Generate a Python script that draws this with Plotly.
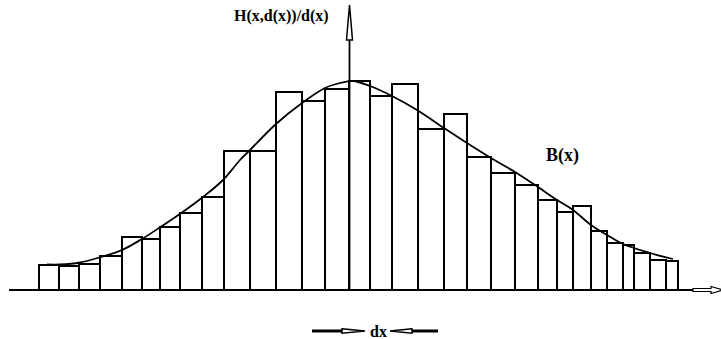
import plotly.graph_objects as go

# ---- data (x in horizontal units, heights above the baseline) ----
bin_edges = [39, 59, 79, 100, 122, 142, 160, 180, 202, 224, 250, 276, 302, 325,
             349, 370, 392, 418, 444, 467, 491, 515, 538, 557, 573, 591, 607,
             623, 634, 650, 666, 678]
bin_heights = [25, 24.5, 26, 34.5, 53, 51, 63, 77, 93, 139.5, 139.5, 198.5, 189.5,
               201, 209, 194, 206, 161, 176.5, 133.5, 117.5, 105, 90, 78.5, 84,
               59.5, 47.5, 45, 37, 30, 29.5]

curve_x = [47, 60, 80, 101, 122, 142, 162, 182, 203, 223, 240, 250, 276, 302,
           325, 340, 353, 370, 392, 417, 444, 467, 491, 515, 538, 557, 573,
           591, 607, 623, 650, 673]
curve_y = [25.5, 25.5, 27.5, 33, 40, 51, 64, 77.5, 93, 110, 130, 140, 166, 187,
           202, 207, 209, 204, 194, 180, 162, 147, 132, 118, 103, 90, 80,
           65, 55, 46, 37, 31]

y_label = "H(x,d(x))/d(x)"
curve_label = "B(x)"
dx_label = "dx"

centers = [(a + b) / 2 for a, b in zip(bin_edges[:-1], bin_edges[1:])]
widths = [b - a for a, b in zip(bin_edges[:-1], bin_edges[1:])]

fig = go.Figure()
fig.add_trace(go.Bar(
    x=centers, y=bin_heights, width=widths,
    marker=dict(color="white", line=dict(color="black", width=2)),
    showlegend=False, hoverinfo="skip",
))
fig.add_trace(go.Scatter(
    x=curve_x, y=curve_y, mode="lines",
    line=dict(color="black", width=1.8, shape="spline", smoothing=1.0),
    showlegend=False, hoverinfo="skip",
))

BASE_PX = 290  # baseline pixel row
H = 339
def py(p):  # pixel row -> data y
    return BASE_PX - p

shapes = []
# horizontal axis line
shapes.append(dict(type="line", x0=9, x1=694, y0=0, y1=0,
                   line=dict(color="black", width=1.8)))
# right axis arrow head (outlined)
shapes.append(dict(type="path",
                   path="M693,1.5 L711,1.5 L711,3.5 L723,0 L711,-3.5 L711,-1.5 L693,-1.5 Z",
                   fillcolor="white", line=dict(color="black", width=1.2)))
# vertical arrow shaft
shapes.append(dict(type="line", x0=349.5, x1=349.5, y0=0, y1=py(40),
                   line=dict(color="black", width=1.8)))
# vertical arrow head (outlined, narrow)
shapes.append(dict(type="path",
                   path=f"M346.5,{py(40)} L349.5,{py(5)} L352.5,{py(40)} Z",
                   fillcolor="white", line=dict(color="black", width=1.5)))
# dx arrows
yb = py(331)
shapes.append(dict(type="line", x0=312, x1=345, y0=yb, y1=yb,
                   line=dict(color="black", width=3)))
shapes.append(dict(type="path",
                   path=f"M342,{yb+2.2} L365,{yb} L342,{yb-2.2} Z",
                   fillcolor="white", line=dict(color="black", width=1.4)))
shapes.append(dict(type="line", x0=409, x1=438, y0=yb, y1=yb,
                   line=dict(color="black", width=3)))
shapes.append(dict(type="path",
                   path=f"M412,{yb+2.2} L390,{yb} L412,{yb-2.2} Z",
                   fillcolor="white", line=dict(color="black", width=1.4)))

font = dict(family="Liberation Serif, Times New Roman, serif", color="black")
annotations = [
    dict(x=281.5, y=py(16), text=f"<b>{y_label}</b>", showarrow=False,
         xanchor="center", yanchor="middle", font=dict(size=16, **font)),
    dict(x=562, y=py(155), text=f"<b>{curve_label}</b>", showarrow=False,
         xanchor="center", yanchor="middle", font=dict(size=18, **font)),
    dict(x=378, y=py(331), text=f"<b>{dx_label}</b>", showarrow=False,
         xanchor="center", yanchor="middle", font=dict(size=16, **font)),
]

fig.update_layout(
    width=721, height=339,
    margin=dict(l=0, r=0, t=0, b=0),
    paper_bgcolor="white", plot_bgcolor="white",
    xaxis=dict(range=[0, 721], visible=False, fixedrange=True),
    yaxis=dict(range=[BASE_PX - H, BASE_PX], visible=False, fixedrange=True),
    bargap=0, shapes=shapes, annotations=annotations,
)

fig.write_html(
    "out.html",
    config={"displayModeBar": False},
    post_script="document.body.style.margin='0';document.body.style.padding='0';document.body.style.overflow='hidden';",
)
